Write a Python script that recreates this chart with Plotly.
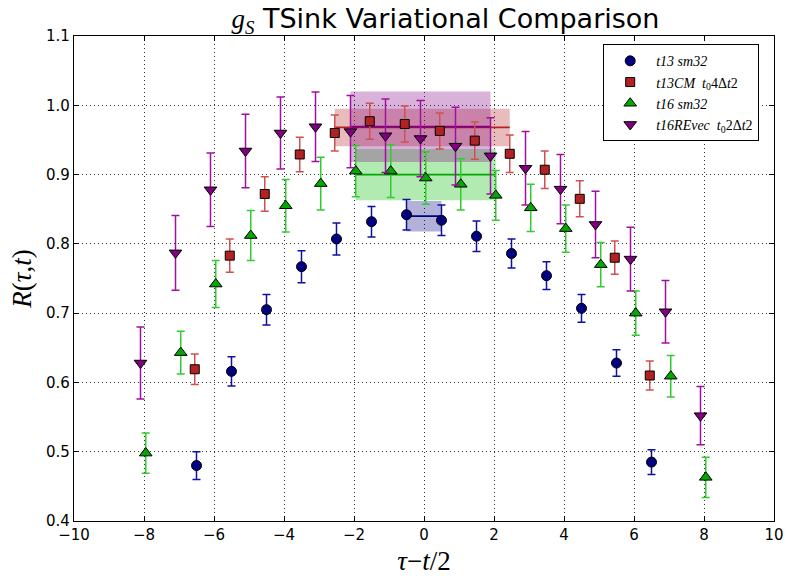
import plotly.graph_objects as go

# ---- data ----
tau_t13 = [-6.5, -5.5, -4.5, -3.5, -2.5, -1.5, -0.5, 0.5, 1.5, 2.5, 3.5, 4.5, 5.5, 6.5]
tau_t16 = [-8, -7, -6, -5, -4, -3, -2, -1, 0, 1, 2, 3, 4, 5, 6, 7, 8]

t13_sm32 = [0.480, 0.616, 0.705, 0.767, 0.807, 0.832, 0.842, 0.834, 0.811, 0.786, 0.754, 0.707, 0.628, 0.485]
t13_sm32_err = [0.020, 0.021, 0.022, 0.023, 0.023, 0.022, 0.022, 0.022, 0.022, 0.021, 0.020, 0.020, 0.019, 0.018]

t13CM = [0.619, 0.783, 0.872, 0.929, 0.960, 0.977, 0.973, 0.963, 0.949, 0.930, 0.907, 0.865, 0.780, 0.610]
t13CM_err = [0.022, 0.024, 0.025, 0.025, 0.026, 0.026, 0.026, 0.026, 0.027, 0.027, 0.027, 0.026, 0.024, 0.021]

t16_sm32 = [0.498, 0.643, 0.742, 0.812, 0.855, 0.887, 0.905, 0.905, 0.895, 0.886, 0.870, 0.852, 0.822, 0.770, 0.700, 0.609, 0.463]
t16_sm32_err = [0.029, 0.031, 0.034, 0.036, 0.038, 0.038, 0.037, 0.038, 0.038, 0.037, 0.036, 0.034, 0.034, 0.032, 0.032, 0.030, 0.029]

t16REvec = [0.628, 0.787, 0.878, 0.934, 0.960, 0.969, 0.962, 0.956, 0.952, 0.941, 0.927, 0.909, 0.879, 0.828, 0.778, 0.702, 0.552]
t16REvec_err = [0.052, 0.054, 0.053, 0.053, 0.052, 0.050, 0.052, 0.053, 0.055, 0.056, 0.055, 0.053, 0.050, 0.048, 0.046, 0.045, 0.042]

# plateau fits: [start, end], value, error
fit_range = {"t13": [-0.5, 0.5], "t13CM": [-2.5, 2.5], "t16": [-2, 2], "t16RE": [-2, 2]}
fit_val = {"t13": 0.840, "t13CM": 0.968, "t16": 0.900, "t16RE": 0.969}
fit_err = {"t13": 0.022, "t13CM": 0.027, "t16": 0.037, "t16RE": 0.051}

labels = {
    "t13": "<i>t13 sm32</i>",
    "t13CM": "<i>t13CM</i>&#160;&#160;<i>t</i><sub>0</sub>4Δ<i>t</i>2",
    "t16": "<i>t16 sm32</i>",
    "t16RE": "<i>t16REvec</i>&#160;&#160;<i>t</i><sub>0</sub>2Δ<i>t</i>2",
}

# ---- styling ----
offsets = {"t13": 0.0, "t13CM": -0.05, "t16": 0.05, "t16RE": -0.1}
mcol = {"t13": "#000080", "t13CM": "#B22222", "t16": "#00A800", "t16RE": "#800080"}
ecol = {"t13": "#1010A0", "t13CM": "#D05050", "t16": "#30CC30", "t16RE": "#A010A0"}
bandcol = {"t13": "rgba(0,0,128,0.30)", "t13CM": "rgba(178,34,34,0.30)",
           "t16": "rgba(0,190,0,0.30)", "t16RE": "rgba(128,0,128,0.30)"}
symbols = {"t13": "circle", "t13CM": "square", "t16": "triangle-up", "t16RE": "triangle-down"}
msize = {"t13": 10, "t13CM": 9, "t16": 11, "t16RE": 11}

series = [
    ("t13", tau_t13, t13_sm32, t13_sm32_err),
    ("t13CM", tau_t13, t13CM, t13CM_err),
    ("t16", tau_t16, t16_sm32, t16_sm32_err),
    ("t16RE", tau_t16, t16REvec, t16REvec_err),
]

fig = go.Figure()

# bands first
for key, _, _, _ in series:
    a, b = fit_range[key]
    a += offsets[key]
    b += offsets[key]
    v, e = fit_val[key], fit_err[key]
    fig.add_trace(go.Scatter(
        x=[a, b, b, a, a], y=[v - e, v - e, v + e, v + e, v - e],
        fill="toself", fillcolor=bandcol[key], mode="none",
        showlegend=False, hoverinfo="skip"))

for key, _, _, _ in series:
    a, b = fit_range[key]
    fig.add_trace(go.Scatter(
        x=[a + offsets[key], b + offsets[key]], y=[fit_val[key], fit_val[key]],
        mode="lines", line=dict(color=mcol[key], width=1.8),
        showlegend=False, hoverinfo="skip"))

for key, xs, ys, es in series:
    fig.add_trace(go.Scatter(
        x=[x + offsets[key] for x in xs], y=ys,
        mode="markers", name=labels[key],
        marker=dict(symbol=symbols[key], size=msize[key], color=mcol[key],
                    line=dict(color="black", width=1)),
        error_y=dict(type="data", array=es, visible=True, color=ecol[key],
                     thickness=1.5, width=4)))

serif = "Liberation Serif, DejaVu Serif, serif"
axis_common = dict(
    showline=True, linecolor="black", linewidth=1.2, mirror="ticks",
    ticks="inside", ticklen=5, tickcolor="black",
    showgrid=True, gridcolor="#333333", griddash="1px,3px", gridwidth=1,
    zeroline=False, automargin=False,
    tickfont=dict(family="DejaVu Sans", size=15, color="black"),
)

fig.update_xaxes(range=[-10, 10], dtick=2, tick0=-10, **axis_common,
                 title=dict(text="<i>τ</i>−<i>t</i>/2",
                            font=dict(family=serif, size=27, color="black"), standoff=8))
fig.update_yaxes(range=[0.4, 1.1], dtick=0.1, tick0=0.4, tickformat=".1f", **axis_common,
                 title=dict(text="<i>R</i>(<i>τ</i>,<i>t</i>)",
                            font=dict(family=serif, size=27, color="black"), standoff=6))

fig.update_layout(
    width=787, height=579,
    margin=dict(l=74, r=13, t=36, b=58, autoexpand=False),
    paper_bgcolor="white", plot_bgcolor="white",
    title=dict(
        text="<span style='font-family:Liberation Serif'><i>g</i><sub><i>S</i></sub></span> TSink Variational Comparison",
        xref="container", x=0.566, xanchor="center",
        yref="container", y=0.951, yanchor="bottom", automargin=False,
        font=dict(family="DejaVu Sans", size=27, color="black")),
    legend=dict(
        x=0.756, y=0.983, xanchor="left", yanchor="top",
        bgcolor="white", bordercolor="black", borderwidth=1,
        font=dict(family=serif, size=14, color="black"),
        itemwidth=42, tracegroupgap=0),
    showlegend=True,
)

fig.write_html("out.html")
